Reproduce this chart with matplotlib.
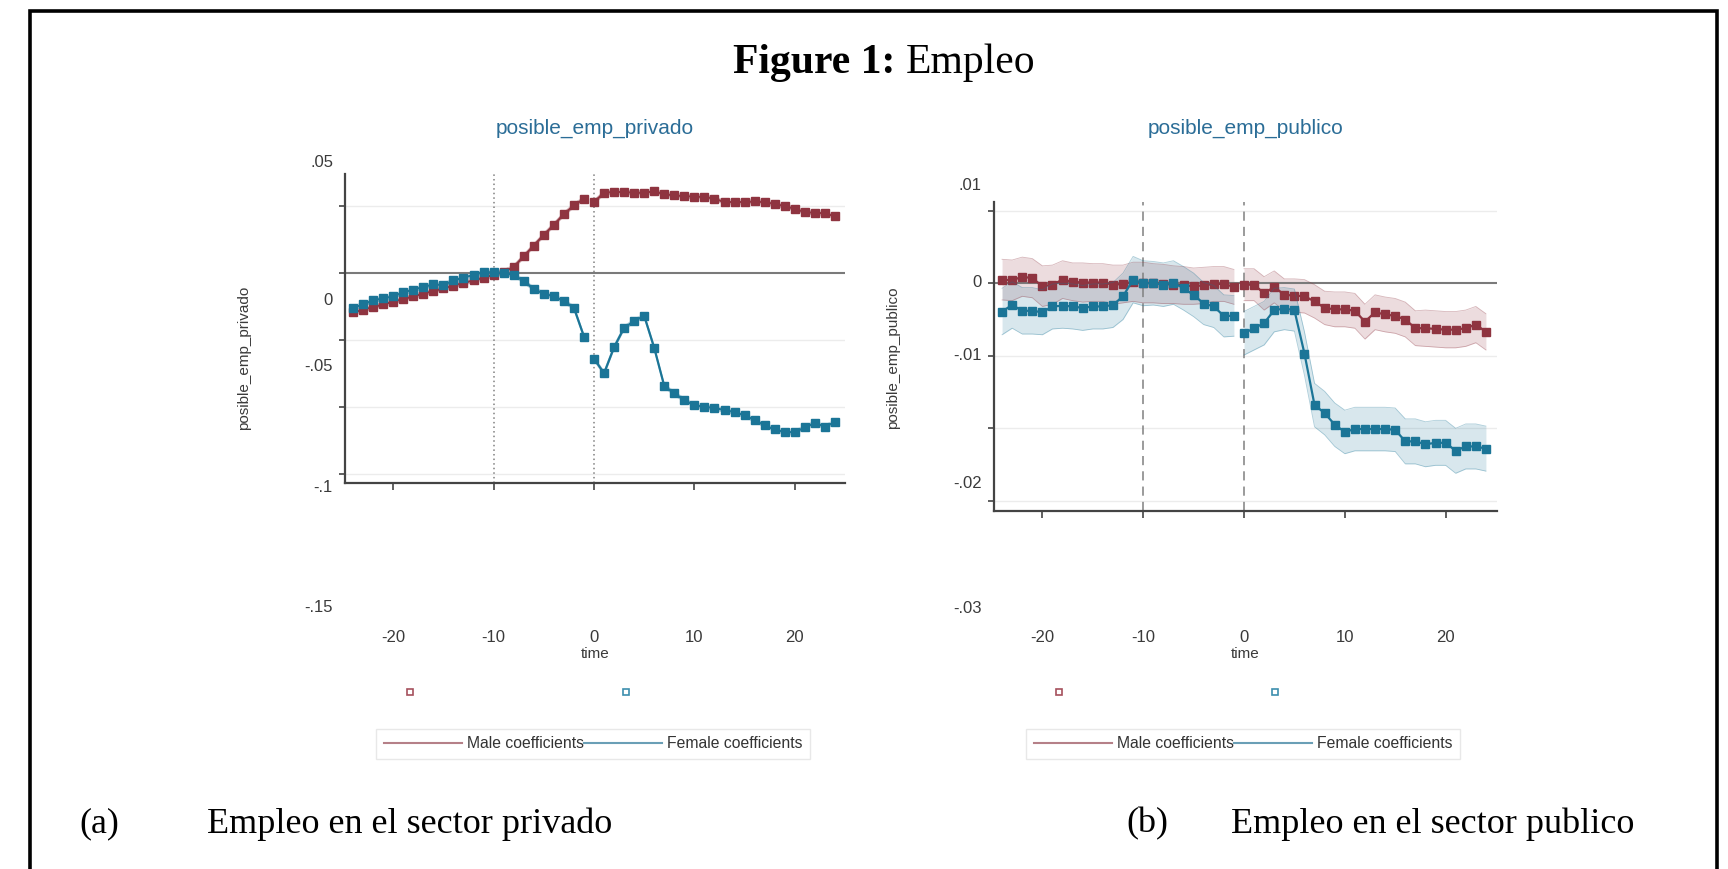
"""Event-study coefficients for private / public employment, male vs female."""

import numpy as np
import matplotlib.pyplot as plt
from matplotlib.lines import Line2D
from matplotlib.patches import Rectangle
from matplotlib.transforms import ScaledTranslation

time = list(range(-24, 25))

# panel (a): posible_emp_privado
priv_male = [-0.0295, -0.0275, -0.0255, -0.0235, -0.0215, -0.0195, -0.0175, -0.0155,
             -0.0135, -0.0115, -0.0095, -0.0075, -0.0055, -0.0035, -0.0015, 0.0010,
             0.0045, 0.0125, 0.0205, 0.0285, 0.0360, 0.0440, 0.0505, 0.0555,
             0.0530, 0.0600, 0.0605, 0.0605, 0.0600, 0.0600, 0.0610, 0.0590,
             0.0580, 0.0575, 0.0570, 0.0570, 0.0555, 0.0530, 0.0530, 0.0530,
             0.0535, 0.0530, 0.0515, 0.0500, 0.0480, 0.0455, 0.0450, 0.0445, 0.0425]
priv_female = [-0.0260, -0.0235, -0.0205, -0.0190, -0.0175, -0.0145, -0.0125, -0.0105,
               -0.0085, -0.0090, -0.0055, -0.0035, -0.0015, 0.0005, 0.0005, 0.0000,
               -0.0015, -0.0060, -0.0120, -0.0155, -0.0175, -0.0210, -0.0260, -0.0475,
               -0.0640, -0.0750, -0.0555, -0.0410, -0.0360, -0.0320, -0.0560, -0.0845,
               -0.0900, -0.0950, -0.0990, -0.1000, -0.1010, -0.1025, -0.1040, -0.1065,
               -0.1100, -0.1140, -0.1170, -0.1190, -0.1190, -0.1155, -0.1120, -0.1150, -0.1115]
priv_male_ci = 0.0015
priv_female_ci = 0.0015

# panel (b): posible_emp_publico
pub_male = [0.0005, 0.0004, 0.0009, 0.0007, -0.0004, -0.0002, 0.0005, 0.0002,
            0.0001, 0.0001, 0.0001, -0.0002, -0.0001, 0.0002, 0.0001, 0.0000,
            -0.0001, -0.0002, -0.0003, -0.0004, -0.0003, -0.0001, -0.0001, -0.0005,
            -0.0002, -0.0002, -0.0014, -0.0005, -0.0016, -0.0017, -0.0018, -0.0025,
            -0.0034, -0.0036, -0.0036, -0.0038, -0.0053, -0.0040, -0.0043, -0.0045,
            -0.0050, -0.0062, -0.0062, -0.0063, -0.0064, -0.0064, -0.0062, -0.0057, -0.0067]
pub_female = [-0.0039, -0.0030, -0.0038, -0.0038, -0.0040, -0.0032, -0.0031, -0.0032,
              -0.0034, -0.0032, -0.0032, -0.0030, -0.0018, 0.0005, 0.0000, 0.0000,
              -0.0002, 0.0001, -0.0007, -0.0016, -0.0028, -0.0032, -0.0045, -0.0045,
              -0.0069, -0.0062, -0.0055, -0.0037, -0.0035, -0.0037, -0.0097, -0.0168,
              -0.0179, -0.0195, -0.0205, -0.0201, -0.0201, -0.0201, -0.0201, -0.0202,
              -0.0218, -0.0218, -0.0222, -0.0220, -0.0220, -0.0231, -0.0225, -0.0225, -0.0228]
pub_male_ci = [0.0028, 0.0028, 0.0027, 0.0027, 0.0028, 0.0027, 0.0026, 0.0026,
               0.0027, 0.0026, 0.0026, 0.0027, 0.0026, 0.0027, 0.0028, 0.0027,
               0.0027, 0.0026, 0.0026, 0.0025, 0.0025, 0.0024, 0.0024, 0.0024,
               0.0022, 0.0022, 0.0023, 0.0022, 0.0022, 0.0023, 0.0023, 0.0023,
               0.0023, 0.0024, 0.0024, 0.0024, 0.0024, 0.0024, 0.0024, 0.0024,
               0.0024, 0.0024, 0.0025, 0.0025, 0.0025, 0.0025, 0.0025, 0.0025, 0.0025]
pub_female_ci = [0.0032, 0.0032, 0.0032, 0.0032, 0.0031, 0.0031, 0.0031, 0.0031,
                 0.0031, 0.0031, 0.0031, 0.0031, 0.0032, 0.0032, 0.0031, 0.0030,
                 0.0030, 0.0030, 0.0030, 0.0030, 0.0029, 0.0029, 0.0029, 0.0028,
                 0.0030, 0.0030, 0.0030, 0.0030, 0.0029, 0.0029, 0.0030, 0.0030,
                 0.0030, 0.0030, 0.0030, 0.0030, 0.0030, 0.0030, 0.0030, 0.0030,
                 0.0031, 0.0031, 0.0031, 0.0031, 0.0031, 0.0031, 0.0031, 0.0031, 0.0031]

x_ticks = [-20, -10, 0, 10, 20]
priv_yticks = [0.05, 0, -0.05, -0.1, -0.15]
priv_ylabels = ['.05', '0', '-.05', '-.1', '-.15']
pub_yticks = [0.01, 0, -0.01, -0.02, -0.03]
pub_ylabels = ['.01', '0', '-.01', '-.02', '-.03']

MALE = '#8f3440'
FEMALE = '#1b7597'
TITLE_C = '#2b6d97'
TXT = '#3a3a3a'
SANS = ['Liberation Sans', 'DejaVu Sans']
SERIF = ['Liberation Serif', 'DejaVu Serif']


def draw_series(ax, t, y, ci, color, band_alpha):
    t = np.asarray(t)
    y = np.asarray(y)
    ci = np.broadcast_to(np.asarray(ci, dtype=float), y.shape)
    # estimates before and after the event are not joined
    for part in (t < 0, t >= 0):
        lo, hi = y[part] - ci[part], y[part] + ci[part]
        ax.fill_between(t[part], lo, hi, color=color, alpha=band_alpha, lw=0)
        ax.plot(t[part], lo, color=color, lw=0.6, alpha=0.35)
        ax.plot(t[part], hi, color=color, lw=0.6, alpha=0.35)
        ax.plot(t[part], y[part], color=color, lw=1.6, marker='s', ms=6,
                mec=color, mfc=color)


def setup_panel(ax, title, ylabel, yticks, ylabels, label_shift, vstyle,
                title_pad, xpad, ylab_pos):
    for s in ('top', 'right'):
        ax.spines[s].set_visible(False)
    for s in ('left', 'bottom'):
        ax.spines[s].set_color('#444444')
        ax.spines[s].set_linewidth(1.6)

    ax.set_xticks(x_ticks)
    ax.set_xticklabels([str(v) for v in x_ticks], fontsize=12, color=TXT, family=SANS)
    ax.tick_params(axis='x', length=5, width=1.2, color='#444444', pad=xpad)
    ax.set_xlabel('time', fontsize=11, color=TXT, family=SANS, labelpad=1)

    ax.set_yticks(yticks)
    ax.set_yticklabels([])
    ax.tick_params(axis='y', length=4, width=1.2, color='#444444')
    # tick labels sit off their ticks in the original
    for v, lab, d in zip(yticks, ylabels, label_shift):
        tr = ax.get_yaxis_transform() + ScaledTranslation(-0.12, -d / 100, ax.figure.dpi_scale_trans)
        ax.text(0, v, lab, transform=tr, ha='right', va='center',
                fontsize=12, color=TXT, family=SANS)

    for v in yticks:
        if v == 0:
            ax.axhline(0, color='#7a7a7a', lw=1.5, zorder=1)
        else:
            ax.axhline(v, color='#ececec', lw=1.0, zorder=0)
    for v in (-10, 0):
        ax.axvline(v, color='#808080', lw=1.1, zorder=1, **vstyle)

    ax.set_title(title, fontsize=15, color=TITLE_C, family=SANS, pad=title_pad)
    ax.set_ylabel(ylabel, fontsize=11, color=TXT, family=SANS)
    ax.yaxis.set_label_coords(*ylab_pos)


def add_legends(fig, cx, sq_cx):
    handles = [Line2D([], [], color='#b58088', lw=1.5),
               Line2D([], [], color='#6a9fb6', lw=1.5)]
    fig.legend(handles, ['Male coefficients', 'Female coefficients'], ncol=2,
               loc='center', bbox_to_anchor=(cx, 0.144), frameon=True,
               fancybox=False, edgecolor='#e3e3e3', handlelength=5.0,
               handletextpad=0.3, columnspacing=0.0, borderpad=0.5,
               prop={'family': SANS, 'size': 11.3}, labelcolor='#333333')
    squares = [Line2D([], [], ls='none', marker='s', ms=5, mfc='none', mec='#a5505c', mew=1.2),
               Line2D([], [], ls='none', marker='s', ms=5, mfc='none', mec='#3d8fae', mew=1.2)]
    fig.legend(squares, ['', ''], ncol=2, loc='center', bbox_to_anchor=(sq_cx, 0.2025),
               frameon=False, handlelength=1.0, handletextpad=0.0, columnspacing=13.8,
               prop={'family': SANS, 'size': 10.5})


def main():
    W, H = 1728, 869
    fig = plt.figure(figsize=(W / 100, H / 100), dpi=100)

    ax1 = fig.add_axes([345 / W, 1 - 483 / H, 500 / W, 309 / H])
    ax2 = fig.add_axes([994 / W, 1 - 511 / H, 503 / W, 309 / H])

    draw_series(ax1, time, priv_male, priv_male_ci, MALE, 0.15)
    draw_series(ax1, time, priv_female, priv_female_ci, FEMALE, 0.15)
    ax1.set_xlim(-24.8, 25.0)
    ax1.set_ylim(-0.157, 0.074)
    setup_panel(ax1, 'posible_emp_privado', 'posible_emp_privado',
                priv_yticks, priv_ylabels, [-44, 28, 27, 81, 134],
                dict(ls=(0, (1, 2))), 29, 101, (-0.188, 0.405))

    draw_series(ax2, time, pub_male, pub_male_ci, MALE, 0.17)
    draw_series(ax2, time, pub_female, pub_female_ci, FEMALE, 0.17)
    ax2.set_xlim(-24.8, 25.1)
    ax2.set_ylim(-0.0314, 0.0112)
    setup_panel(ax2, 'posible_emp_publico', 'posible_emp_publico',
                pub_yticks, pub_ylabels, [-25, -1, 0, 55, 108],
                dict(ls=(0, (6, 4))), 49, 81, (-0.187, 0.495))

    add_legends(fig, 593 / W, 518 / W)
    add_legends(fig, 1243 / W, 1167 / W)

    # page frame around the figure (no bottom edge in the crop)
    fig.add_artist(Rectangle((30 / W, -0.05), 1687 / W, 1.05 - 11 / H, fill=False,
                             ec='black', lw=2.6, transform=fig.transFigure))

    fig.text(895 / W, 1 - 63 / H, 'Figure 1:', ha='right', va='center',
             fontsize=30, fontweight='bold', family=SERIF)
    fig.text(906 / W, 1 - 63 / H, 'Empleo', ha='left', va='center',
             fontsize=30, family=SERIF)

    for x0, tag, x1, cap in [(79, '(a)', 207, 'Empleo en el sector privado'),
                             (1126, '(b)', 1231, 'Empleo en el sector publico')]:
        fig.text(x0 / W, 1 - 824 / H, tag, ha='left', va='center', fontsize=26, family=SERIF)
        fig.text(x1 / W, 1 - 824 / H, cap, ha='left', va='center', fontsize=26, family=SERIF)

    fig.savefig('out.png', dpi=100)


if __name__ == '__main__':
    main()
